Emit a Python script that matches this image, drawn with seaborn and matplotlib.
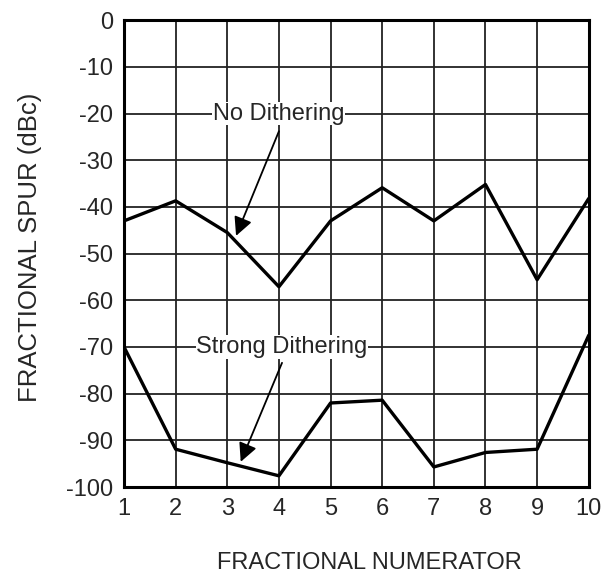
import matplotlib
matplotlib.use("Agg")
import matplotlib.pyplot as plt
import seaborn as sns
import pandas as pd

numerator = [1, 2, 3, 4, 5, 6, 7, 8, 9, 10]
no_dithering = [-43.0, -38.7, -45.5, -57.1, -43.0, -35.9, -43.0, -35.2, -55.6, -38.2]
strong_dithering = [-70.0, -91.9, -94.8, -97.6, -82.0, -81.4, -95.7, -92.6, -91.9, -67.5]
x_ticks = [1, 2, 3, 4, 5, 6, 7, 8, 9, 10]
y_ticks = [0, -10, -20, -30, -40, -50, -60, -70, -80, -90, -100]

sns.set_style("white")
plt.rcParams['font.family'] = ['Liberation Sans', 'DejaVu Sans']
plt.rcParams['axes.unicode_minus'] = False

df = pd.DataFrame({
    "x": numerator * 2,
    "y": no_dithering + strong_dithering,
    "series": ["No Dithering"] * len(numerator) + ["Strong Dithering"] * len(numerator),
})

fig = plt.figure(figsize=(6.02, 5.75), dpi=100)
ax = fig.add_axes([0.206, 0.153, 0.772, 0.812])

sns.lineplot(data=df, x="x", y="y", units="series", estimator=None,
             color="black", linewidth=2.4, ax=ax, zorder=3, legend=False)

ax.set_xlim(1, 10)
ax.set_ylim(-100, 0)
ax.set_xticks(x_ticks)
ax.set_yticks(y_ticks)
ax.tick_params(axis="both", length=0, labelsize=17, pad=8)
ax.grid(True, color="#222222", linewidth=1.3)
ax.set_axisbelow(True)
for s in ax.spines.values():
    s.set_color("black")
    s.set_linewidth(2.2)

ax.set_xlabel("FRACTIONAL NUMERATOR", fontsize=17, labelpad=23)
ax.set_ylabel("FRACTIONAL SPUR (dBc)", fontsize=18.5, labelpad=17)
ax.xaxis.label.set_x(0.527)
ax.yaxis.label.set_y(0.514)

# annotations
ax.text(4.0, -20, "No Dithering", fontsize=17, ha="center", va="center",
        bbox=dict(facecolor="white", edgecolor="none", pad=0.5), zorder=4)
ax.annotate("", xy=(3.17, -46.2), xytext=(4.0, -23.8),
            arrowprops=dict(arrowstyle="-|>", color="black", lw=1.3,
                            mutation_scale=28, shrinkA=0, shrinkB=0), zorder=5)

ax.text(4.06, -70, "Strong Dithering", fontsize=17, ha="center", va="center",
        bbox=dict(facecolor="white", edgecolor="none", pad=0.5), zorder=4)
ax.annotate("", xy=(3.26, -94.6), xytext=(4.06, -73.4),
            arrowprops=dict(arrowstyle="-|>", color="black", lw=1.3,
                            mutation_scale=28, shrinkA=0, shrinkB=0), zorder=5)

fig.savefig("out.png", dpi=100)
